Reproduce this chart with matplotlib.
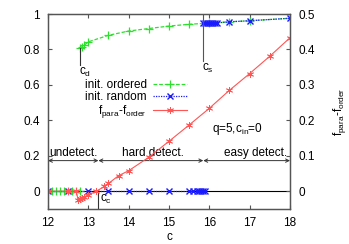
import numpy as np
import matplotlib.pyplot as plt

# init. ordered (left axis)
c_ord_low = [12.0, 12.1, 12.2, 12.3, 12.4, 12.5, 12.6, 12.7, 12.8]
f_ord_low = [0, 0, 0, 0, 0, 0, 0, 0, 0]
c_ord = [12.8, 12.85, 12.9, 13.0, 13.5, 14.0, 14.5, 15.0, 15.5, 16.0, 16.5, 17.0, 18.0]
f_ord = [0.806, 0.816, 0.824, 0.843, 0.880, 0.904, 0.918, 0.932, 0.942, 0.949, 0.956, 0.962, 0.976]

# init. random (left axis)
c_rnd_low = [12.0, 12.5, 13.0, 13.5, 14.0, 14.5, 15.0, 15.5, 15.6, 15.7, 15.75, 15.8, 15.85, 15.9]
f_rnd_low = [0] * 14
c_rnd = [15.85, 15.9, 15.95, 16.0, 16.05, 16.1, 16.15, 16.2, 16.5, 17.0, 18.0]
f_rnd = [0.947, 0.947, 0.948, 0.948, 0.949, 0.949, 0.950, 0.950, 0.956, 0.962, 0.976]

# f_para - f_order (right axis)
c_diff = [12.0, 12.5, 12.7, 12.75, 12.8, 12.85, 12.9, 13.0, 13.2, 13.4, 13.5, 13.75,
          14.0, 14.5, 15.0, 15.5, 16.0, 16.5, 17.0, 17.5, 18.0]
f_diff = [0, 0, 0, -0.025, -0.022, -0.019, -0.016, -0.010, 0.0, 0.014, 0.022, 0.044,
          0.058, 0.096, 0.141, 0.187, 0.234, 0.285, 0.332, 0.381, 0.433]

c_d, c_c, c_s = 12.8, 13.25, 15.85

plt.rcParams['font.family'] = ['Liberation Sans', 'DejaVu Sans']
plt.rcParams['mathtext.fontset'] = 'custom'
plt.rcParams['mathtext.rm'] = 'Liberation Sans'
fs = 8.5
green = '#2ee02e'
blue = '#1a1aff'
red = '#ff5555'
axcol = '#555555'

fig = plt.figure(figsize=(3.49, 2.44), dpi=100)
ax = fig.add_axes([0.1375, 0.1434, 0.6934, 0.7992])
ax2 = ax.twinx()

ax.axhline(0, color='black', lw=0.8, zorder=1)

ax.plot(c_ord_low, f_ord_low, color=green, ls=(0, (3, 1.5)), lw=0.9, marker='+', ms=6, mew=0.9)
l1, = ax.plot(c_ord, f_ord, color=green, ls=(0, (3, 1.5)), lw=0.9, marker='+', ms=6, mew=0.9,
              label='init. ordered')
ax.plot(c_rnd_low, f_rnd_low, color=blue, ls=(0, (1, 1)), lw=0.9, marker='x', ms=5, mew=1.0)
l2, = ax.plot(c_rnd, f_rnd, color=blue, ls=(0, (1, 1)), lw=0.9, marker='x', ms=5, mew=1.0,
              label='init. random')
l3, = ax2.plot(c_diff, f_diff, color=red, lw=0.8, marker=(6, 2, 0), ms=5, mew=0.6,
               label=r'f$_{\rm para}$-f$_{\rm order}$')

# annotations
lc = '#333333'
ax.plot([c_d, c_d], [0.806, 0.715], color=lc, lw=0.8)
ax.text(c_d - 0.02, 0.71, r'c$_{\rm d}$', fontsize=fs, va='top', ha='left')
ax.plot([c_s, c_s], [1.0, 0.735], color=axcol, lw=0.8)
ax.text(c_s - 0.02, 0.73, r'c$_{\rm s}$', fontsize=fs, va='top', ha='left')
ax.plot([c_c, c_c], [0, -0.1], color=lc, lw=0.8)
ax.text(c_c + 0.05, -0.01, r'c$_{\rm c}$', fontsize=fs, va='top', ha='left')

ya = 0.173
for x0, x1 in [(12.0, c_c), (c_c, c_s), (c_s, 18.0)]:
    ax.annotate('', xy=(x1, ya), xytext=(x0, ya),
                arrowprops=dict(arrowstyle='<->', color=lc, lw=0.7,
                                shrinkA=0, shrinkB=0, mutation_scale=6))
ax.text(12.62, ya + 0.008, 'undetect.', fontsize=fs, ha='center', va='bottom')
ax.text(14.6, ya + 0.008, 'hard detect.', fontsize=fs, ha='center', va='bottom')
ax.text(17.15, ya + 0.008, 'easy detect.', fontsize=fs, ha='center', va='bottom')
ax.text(16.7, 0.35, r'q=5,c$_{\rm in}$=0', fontsize=fs, ha='center', va='center')

ax.set_xlim(12, 18)
ax.set_ylim(-0.1, 1.0)
ax2.set_ylim(-0.05, 0.5)
ax.set_xticks([12, 13, 14, 15, 16, 17, 18])
ax.set_yticks([0, 0.2, 0.4, 0.6, 0.8, 1])
ax.set_yticklabels(['0', '0.2', '0.4', '0.6', '0.8', '1'])
ax2.set_yticks([0, 0.1, 0.2, 0.3, 0.4, 0.5])
ax2.set_yticklabels(['0', '0.1', '0.2', '0.3', '0.4', '0.5'])

ax.tick_params(axis='x', direction='in', top=True, length=3, color=axcol, labelsize=fs, pad=6)
ax.tick_params(axis='y', direction='in', length=3, color=axcol, labelsize=fs, pad=6)
ax2.tick_params(axis='y', direction='in', length=3, color=axcol, labelsize=fs, pad=6)
for a in (ax, ax2):
    for s in a.spines.values():
        s.set_color(axcol)
        s.set_linewidth(0.9)

ax.set_xlabel('c', fontsize=fs, labelpad=1)
ax2.set_ylabel(r'f$_{\rm para}$-f$_{\rm order}$', fontsize=fs, labelpad=12)

leg = ax.legend(handles=[l1, l2, l3], loc='upper right', bbox_to_anchor=(0.574, 0.667),
                markerfirst=False, frameon=False, fontsize=fs, handlelength=2.9,
                handletextpad=0.5, labelspacing=0.0, borderaxespad=0, borderpad=0)
for t in leg.get_texts():
    t.set_ha('right')
leg._legend_box.align = 'right'

fig.savefig('out.png', dpi=100)
